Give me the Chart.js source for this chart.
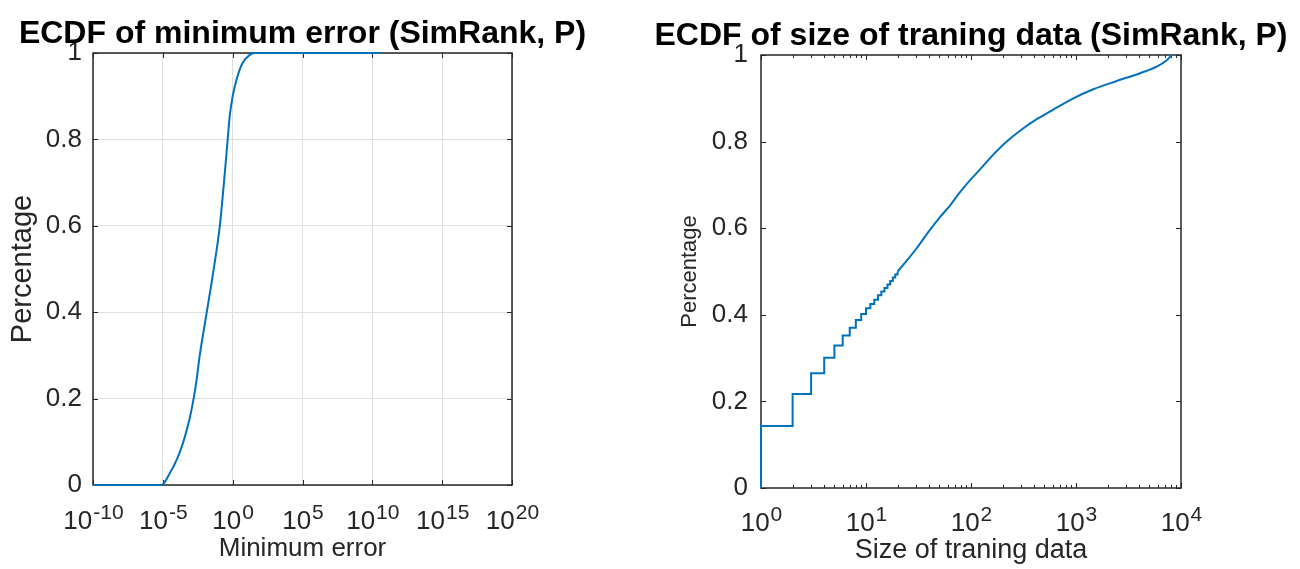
<!DOCTYPE html>
<html>
<head>
<meta charset="utf-8">
<script src="https://cdn.jsdelivr.net/npm/chart.js@4.4.1/dist/chart.umd.min.js"></script>
<style>
  html, body { margin: 0; padding: 0; background: #ffffff; }
  #wrap { position: relative; width: 1300px; height: 569px; overflow: hidden; background: #ffffff; }
  canvas { position: absolute; top: 0; }
  #c1 { left: 0; }
  #c2 { left: 650px; }
</style>
</head>
<body>
<div id="wrap">
  <canvas id="c1" width="650" height="569"></canvas>
  <canvas id="c2" width="650" height="569"></canvas>
</div>
<script>
// ---------- Left chart: ECDF of minimum error ----------
const errX = [1e-10, 8.1e-6, 1.6e-5, 3.2e-5, 6.3e-5, 1.6e-4, 3.5e-4, 8.5e-4, 1.6e-3, 2.6e-3, 4.4e-3, 0.014, 0.044, 0.12, 0.27, 0.44, 0.62, 1.0, 1.95, 5.1, 16, 37, 3.7e10];
const errY = [0, 0, 0.01, 0.028, 0.045, 0.075, 0.108, 0.155, 0.2, 0.243, 0.30, 0.40, 0.50, 0.60, 0.72, 0.80, 0.855, 0.90, 0.94, 0.977, 0.995, 1.0, 1.0];
const errTicks = [1e-10, 1e-5, 1e0, 1e5, 1e10, 1e15, 1e20];
const errTickExp = ['-10', '-5', '0', '5', '10', '15', '20'];

// ---------- Right chart: ECDF of size of training data ----------
const sizeStepX = [1, 1, 2, 3, 4, 5, 6, 7, 8, 9, 10, 11, 12, 13, 14, 15, 16, 17, 18, 19, 20];
const sizeStepY = [0, 0.143, 0.217, 0.265, 0.301, 0.329, 0.352, 0.370, 0.388, 0.402, 0.415, 0.425, 0.435, 0.445, 0.454, 0.462, 0.470, 0.478, 0.486, 0.493, 0.500];
const sizeSmoothX = [20, 25, 30, 40, 50, 63, 75, 91, 122, 163, 211, 304, 438, 608, 943, 1462, 2443, 4074, 5870, 7310, 8150];
const sizeSmoothY = [0.500, 0.528, 0.552, 0.594, 0.624, 0.652, 0.677, 0.702, 0.736, 0.77, 0.797, 0.828, 0.854, 0.874, 0.900, 0.921, 0.940, 0.958, 0.973, 0.988, 1.0];
const sizeTicks = [1, 10, 100, 1000, 10000];
const sizeTickExp = ['0', '1', '2', '3', '4'];

// ---------- Shared y ticks ----------
const yTicks = [0, 0.2, 0.4, 0.6, 0.8, 1];
const yTickLabels = ['0', '0.2', '0.4', '0.6', '0.8', '1'];

// ---------- Titles ----------
const leftTitle = 'ECDF of minimum error (SimRank, P)';
const rightTitle = 'ECDF of size of traning data (SimRank, P)';

const FONT = '"Liberation Sans", Arial, Helvetica, sans-serif';
const AX = '#262626';
const LINE = '#0072BD';
Chart.defaults.font.family = FONT;

function pts(xs, ys) { return xs.map((x, i) => ({ x: x, y: ys[i] })); }

const boxPlugin = {
  id: 'matlabBox',
  beforeDatasetsDraw(chart, args, o) {
    const ctx = chart.ctx;
    const { left, right, top, bottom } = chart.chartArea;
    const xs = chart.scales.x, ys = chart.scales.y;
    ctx.save();
    ctx.strokeStyle = AX;
    ctx.lineWidth = 1;
    ctx.beginPath();
    const L = o.tickLen;
    o.xMajor.forEach(v => {
      const px = Math.round(xs.getPixelForValue(v)) + 0.5;
      ctx.moveTo(px, bottom); ctx.lineTo(px, bottom - L);
      ctx.moveTo(px, top); ctx.lineTo(px, top + L);
    });
    (o.xMinor || []).forEach(v => {
      const px = Math.round(xs.getPixelForValue(v)) + 0.5;
      ctx.moveTo(px, bottom); ctx.lineTo(px, bottom - o.minorLen);
      ctx.moveTo(px, top); ctx.lineTo(px, top + o.minorLen);
    });
    yTicks.forEach(v => {
      const py = Math.round(ys.getPixelForValue(v)) + 0.5;
      ctx.moveTo(left, py); ctx.lineTo(left + L, py);
      ctx.moveTo(right, py); ctx.lineTo(right - L, py);
    });
    ctx.stroke();
    ctx.lineWidth = 1.5;
    ctx.strokeRect(left, top, right - left, bottom - top);
    ctx.restore();
  },
  afterDraw(chart, args, o) {
    const ctx = chart.ctx;
    const { left, right } = chart.chartArea;
    const xs = chart.scales.x;
    ctx.save();
    // x tick labels with superscript exponents
    const F = o.labelSize, FS = Math.round(o.labelSize * 0.82);
    ctx.fillStyle = AX;
    ctx.textAlign = 'left';
    ctx.textBaseline = 'alphabetic';
    o.xMajor.forEach((v, i) => {
      const px = xs.getPixelForValue(v);
      ctx.font = F + 'px ' + FONT;
      const wb = ctx.measureText('10').width;
      ctx.font = FS + 'px ' + FONT;
      const we = ctx.measureText(o.xExp[i]).width;
      const x0 = px - (wb + we) / 2;
      ctx.font = F + 'px ' + FONT;
      ctx.fillText('10', x0, o.labelBase);
      ctx.font = FS + 'px ' + FONT;
      ctx.fillText(o.xExp[i], x0 + wb + 1, o.labelBase - F * 0.4);
    });
    // plot title, centred over the axes box
    ctx.fillStyle = '#000000';
    ctx.textAlign = 'center';
    ctx.font = 'bold ' + o.titleSize + 'px ' + FONT;
    ctx.fillText(o.title, (left + right) / 2, o.titleBase);
    ctx.restore();
  }
};

function yScale(width, tickSize, pad, titleText, titleSize, titlePadTop, grid) {
  return {
    type: 'linear', min: 0, max: 1,
    afterBuildTicks: s => { s.ticks = yTicks.map(v => ({ value: v })); },
    afterFit: s => { s.width = width; },
    ticks: { font: { size: tickSize }, color: AX, padding: pad, callback: (v, i) => yTickLabels[i] },
    grid: { display: grid, color: '#dfdfdf', drawTicks: false, lineWidth: 1 },
    border: { display: false },
    title: { display: true, text: titleText, color: AX, font: { size: titleSize }, padding: { top: titlePadTop, bottom: 0 } }
  };
}

new Chart(document.getElementById('c1'), {
  type: 'line',
  data: { datasets: [{ data: pts(errX, errY), borderColor: LINE, borderWidth: 2, pointRadius: 0, fill: false,
                       cubicInterpolationMode: 'monotone', clip: 6 }] },
  options: {
    animation: false, responsive: false, devicePixelRatio: 1,
    layout: { padding: { left: 0, right: 138, top: 53, bottom: 0 } },
    plugins: {
      legend: { display: false }, tooltip: { enabled: false }, title: { display: false },
      matlabBox: { xMajor: errTicks, xExp: errTickExp, tickLen: 5, minorLen: 3, labelSize: 26, labelBase: 529,
                   title: leftTitle, titleSize: 32, titleBase: 43 }
    },
    scales: {
      x: {
        type: 'logarithmic', min: 1e-10, max: 1e20,
        afterBuildTicks: s => { s.ticks = errTicks.map(v => ({ value: v })); },
        afterFit: s => { s.height = 84; },
        ticks: { display: false },
        grid: { display: true, color: '#dfdfdf', drawTicks: false, lineWidth: 1 },
        border: { display: false },
        title: { display: true, text: 'Minimum error', color: AX, font: { size: 26 }, padding: { top: 0, bottom: 5 } }
      },
      y: yScale(93, 26, 11, 'Percentage', 29, 6, true)
    }
  },
  plugins: [boxPlugin]
});

const sizeMinor = [];
for (let d = 1; d <= 1000; d *= 10) { for (let m = 2; m <= 9; m++) { sizeMinor.push(m * d); } }

new Chart(document.getElementById('c2'), {
  type: 'line',
  data: { datasets: [
    { data: pts(sizeStepX, sizeStepY), borderColor: LINE, borderWidth: 2, pointRadius: 0, fill: false, stepped: 'before', clip: 6 },
    { data: pts(sizeSmoothX, sizeSmoothY), borderColor: LINE, borderWidth: 2, pointRadius: 0, fill: false,
      cubicInterpolationMode: 'monotone', clip: 6 }
  ] },
  options: {
    animation: false, responsive: false, devicePixelRatio: 1,
    layout: { padding: { left: 0, right: 119, top: 55, bottom: 0 } },
    plugins: {
      legend: { display: false }, tooltip: { enabled: false }, title: { display: false },
      matlabBox: { xMajor: sizeTicks, xExp: sizeTickExp, xMinor: sizeMinor, tickLen: 5, minorLen: 3, labelSize: 26, labelBase: 531,
                   title: rightTitle, titleSize: 32, titleBase: 45 }
    },
    scales: {
      x: {
        type: 'logarithmic', min: 1, max: 10000,
        afterBuildTicks: s => { s.ticks = sizeTicks.map(v => ({ value: v })); },
        afterFit: s => { s.height = 81; },
        ticks: { display: false },
        grid: { display: false },
        border: { display: false },
        title: { display: true, text: 'Size of traning data', color: AX, font: { size: 27 }, padding: { top: 0, bottom: 2 } }
      },
      y: yScale(111, 26, 13, 'Percentage', 22, 27, false)
    }
  },
  plugins: [boxPlugin]
});
</script>
</body>
</html>
